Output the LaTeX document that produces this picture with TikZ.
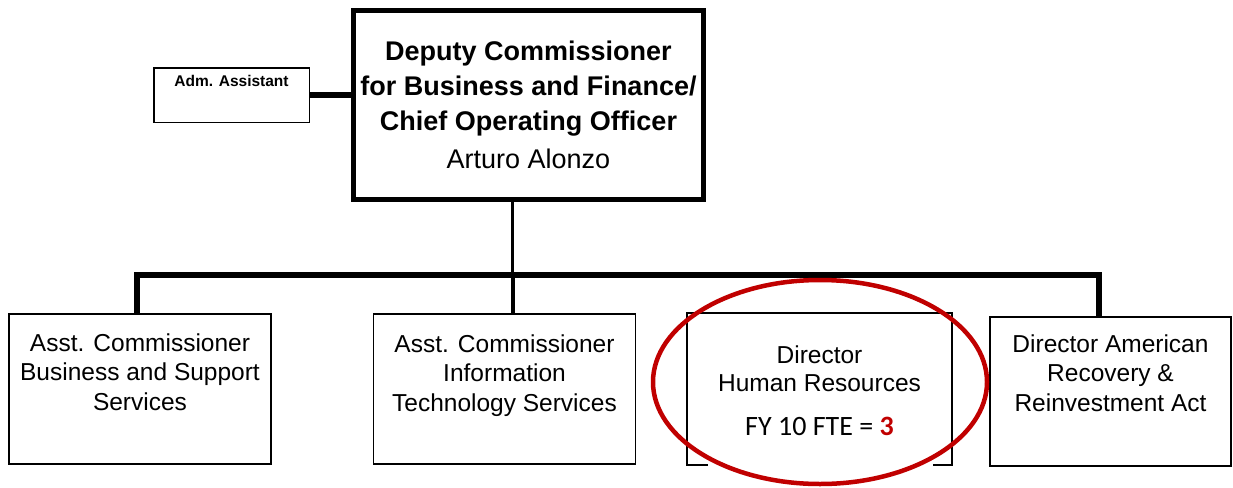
\documentclass[tikz,border=0pt]{standalone}
\usepackage{fontspec}
\setmainfont{Liberation Sans}
\newfontfamily\calibrifont{Carlito}
\usetikzlibrary{positioning}
\definecolor{circred}{RGB}{192,0,0}

\begin{document}
\begin{tikzpicture}[x=1pt, y=-1pt,
		topbox/.style={draw, line width=5pt, minimum width=350pt, minimum height=189pt, inner sep=0pt, align=center, font=\fontsize{27}{35}\selectfont\bfseries},
		orgbox/.style={draw, line width=1.6pt, minimum width=262pt, minimum height=150pt, inner sep=0pt},
		boxtext/.style={anchor=north, align=center, inner sep=0pt, font=\fontsize{24.5}{29.5}\selectfont},
		busline/.style={line width=5.5pt}]
				\useasboundingbox (0,0) rectangle (1233,487);

				% Deputy Commissioner
				\node[topbox] (dc) at (528.5,105) {Deputy Commissioner\\for Business and Finance/\\Chief Operating Officer\\[3pt]
					\mdseries Arturo Alonzo};

				% Adm. Assistant
				\node[draw, line width=1.5pt, minimum width=155.5pt, minimum height=54.5pt, inner sep=0pt] (adm) at (231.5,95) {};
				\node[inner sep=0pt, anchor=north, font=\fontsize{15.5}{18}\selectfont\bfseries, below=8pt of adm.north] (admtext) {Adm. Assistant};
				\draw[busline] (adm.east) -- (adm.east -| dc.west);

				% Bus
				\coordinate (busL) at (137,275);
				\coordinate (busM) at (512.5,275);
				\coordinate (busR) at (1099,275);

				% Boxes
				\node[orgbox] (bss) at (140,389) {};
				\node[orgbox] (it) at (504.5,389) {};
				\node[orgbox, draw=none, minimum width=263pt] (hr) at (819.5,389) {};
				\node[orgbox, minimum width=241pt, minimum height=149pt] (arra) at (1110.5,391.5) {};

				\node[boxtext, below=20pt of bss.north] (bsstext) {Asst. Commissioner\\Business and Support\\Services};
				\node[boxtext, below=21pt of it.north] (ittext) {Asst. Commissioner\\Information\\Technology Services};
				\node[boxtext, below=32pt of hr.north, font=\fontsize{24.5}{28}\selectfont] (hrtext) {Director\\Human Resources};
				\node[boxtext, below=18pt of arra.north] (arratext) {Director American\\Recovery \&\\Reinvestment Act};
				\node[inner sep=0pt, anchor=base, font=\calibrifont\fontsize{28}{32}\selectfont] (hrfte) at ([yshift=29pt]hr.south) {FY 10 FTE = {\bfseries\color{circred}3}};

				% HR box, bottom hidden
				\draw[line width=1.6pt] ([xshift=21pt]hr.south west) -| (hr.north west) -| (hr.south east) -- ([xshift=-19pt]hr.south east);

				% Lines
				\draw[busline] (bss.north -| busL) -- (busL) -- (busR) -- (arra.north -| busR);
				\draw[line width=3pt] (dc.south -| busM) -- (busM);
				\draw[line width=4pt] (busM) -- (it.north -| busM);

				% Circle
				\draw[circred, line width=4.5pt] (820,382) ellipse [x radius=167pt, y radius=102pt];
			\end{tikzpicture}
\end{document}
